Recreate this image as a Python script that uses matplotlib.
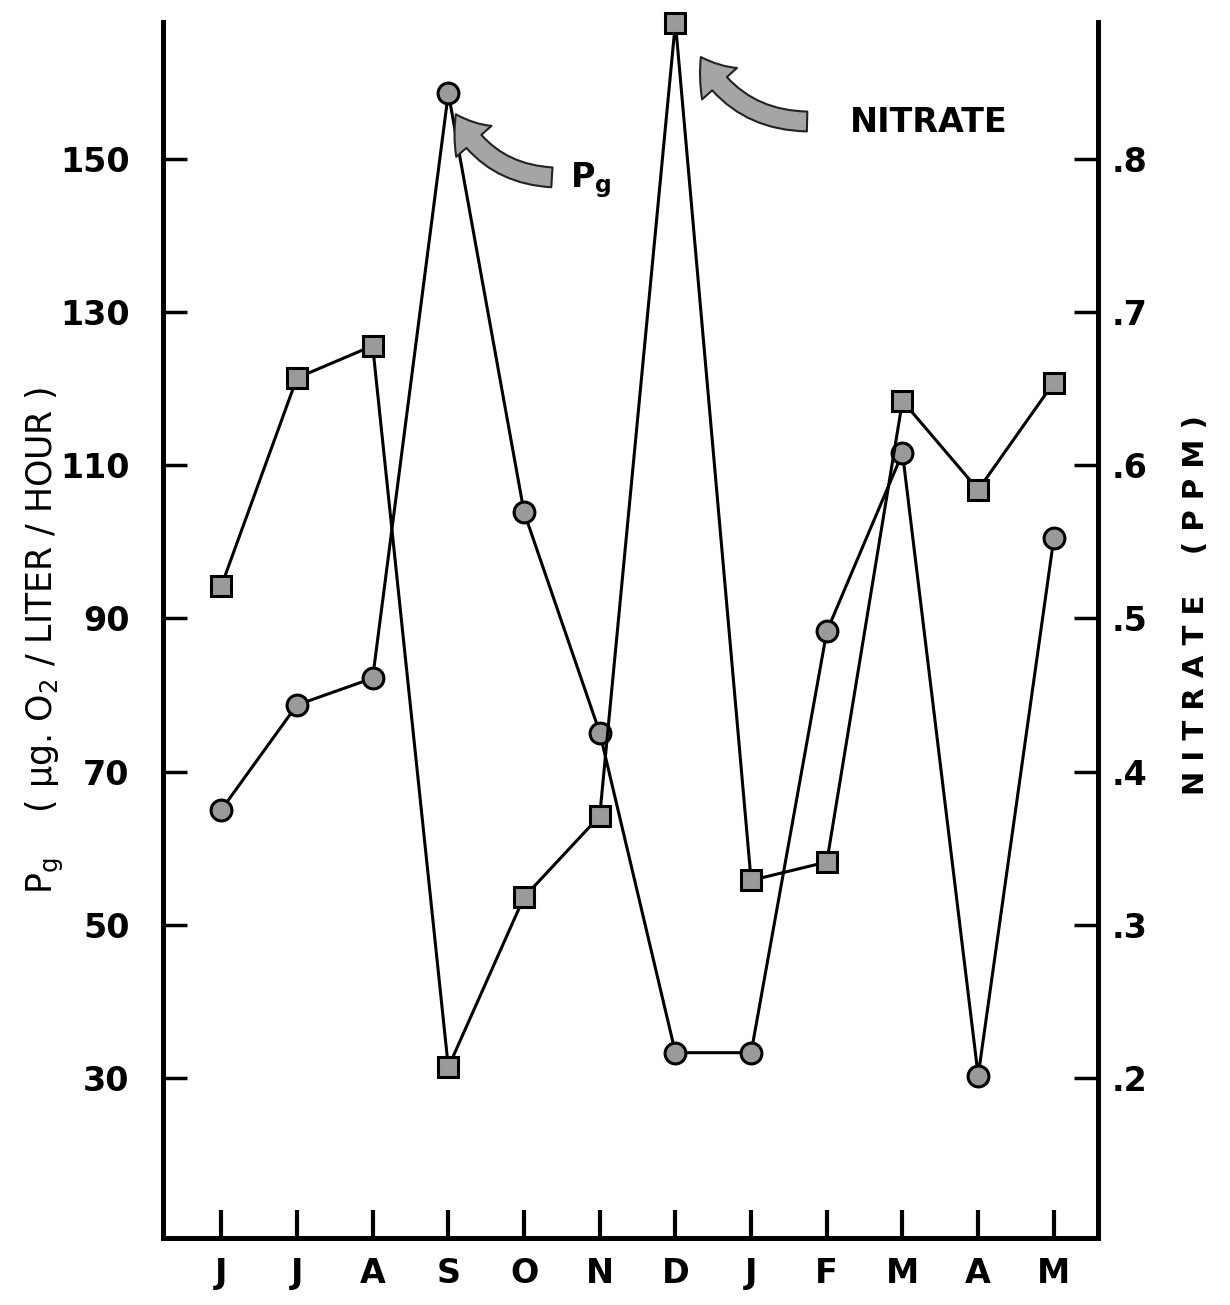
import numpy as np
import matplotlib.pyplot as plt

months = ['J', 'J', 'A', 'S', 'O', 'N', 'D', 'J', 'F', 'M', 'A', 'M']
pg = np.array([65.0, 78.7, 82.2, 158.6, 103.9, 75.1, 33.3, 33.3, 88.3, 111.6, 30.3, 100.5])
nitrate = np.array([0.521, 0.657, 0.678, 0.207, 0.318, 0.371, 0.889, 0.329, 0.341, 0.642, 0.584, 0.654])

pg_ticks = [30, 50, 70, 90, 110, 130, 150]
nitrate_ticks = [0.2, 0.3, 0.4, 0.5, 0.6, 0.7, 0.8]
nitrate_tick_labels = ['.2', '.3', '.4', '.5', '.6', '.7', '.8']

plt.rcParams['font.family'] = ['DejaVu Sans']
plt.rcParams['font.weight'] = 'bold'

x = np.arange(len(months))

fig = plt.figure(figsize=(12.3, 13.05), dpi=100)
ax = fig.add_axes([0.1325, 0.0513, 0.76, 0.932])
ax2 = ax.twinx()

# Pg series (circles) on left axis
ax.plot(x, pg, color='black', lw=2.2, marker='o', ms=15, mfc='#9a9a9a',
        mec='black', mew=2.2, clip_on=False, zorder=3)
# nitrate series (squares) on right axis
ax2.plot(x, nitrate, color='black', lw=2.2, marker='s', ms=15, mfc='#9a9a9a',
         mec='black', mew=2.2, clip_on=False, zorder=3)

ax.set_xlim(-0.77, 11.58)
ax.set_ylim(9.1, 167.9)
ax2.set_ylim(0.0955, 0.8895)

ax.set_xticks(x)
ax.set_xticklabels(months)
ax.set_yticks(pg_ticks)
ax2.set_yticks(nitrate_ticks)
ax2.set_yticklabels(nitrate_tick_labels)

ax.tick_params(axis='y', direction='in', length=17, width=2.5, labelsize=24, pad=24)
ax.tick_params(axis='x', direction='in', length=20, width=3, labelsize=24, pad=14)
ax2.tick_params(axis='y', direction='in', length=17, width=2.5, labelsize=24, pad=10)

for s in ['top', 'right']:
    ax.spines[s].set_visible(False)
for s in ['top', 'left', 'bottom']:
    ax2.spines[s].set_visible(False)
ax.spines['left'].set_linewidth(3.6)
ax.spines['bottom'].set_linewidth(3.6)
ax2.spines['right'].set_linewidth(3.6)

# curved arrow labels
arrow = dict(arrowstyle='simple,head_length=0.9,head_width=1.3,tail_width=0.55',
             connectionstyle='arc3,rad=-0.3', fc='#a5a5a5', ec='#222222', lw=1.5,
             mutation_scale=26)
ax.annotate('', xy=(0.312, 0.926), xytext=(0.419, 0.872),
            xycoords='axes fraction', textcoords='axes fraction', arrowprops=arrow)
ax.text(0.435, 0.870, 'P$_\\mathregular{g}$', transform=ax.transAxes, fontsize=24,
        fontweight='bold', va='center', ha='left')
ax.annotate('', xy=(0.574, 0.973), xytext=(0.692, 0.918),
            xycoords='axes fraction', textcoords='axes fraction', arrowprops=arrow)
ax.text(0.735, 0.917, 'NITRATE', transform=ax.transAxes, fontsize=24,
        fontweight='bold', va='center', ha='left')

fig.text(45 / 1230, 1 - 640 / 1305,
         'P$_\\mathregular{g}$    ( µg. O$_\\mathregular{2}$ / LITER / HOUR )',
         rotation=90, ha='center', va='center', fontsize=25, fontweight='normal')
fig.text(1196 / 1230, 1 - 605 / 1305, 'N I T R A T E    ( P P M )',
         rotation=90, ha='center', va='center', fontsize=21, fontweight='bold')

fig.savefig('out.png', dpi=100)
